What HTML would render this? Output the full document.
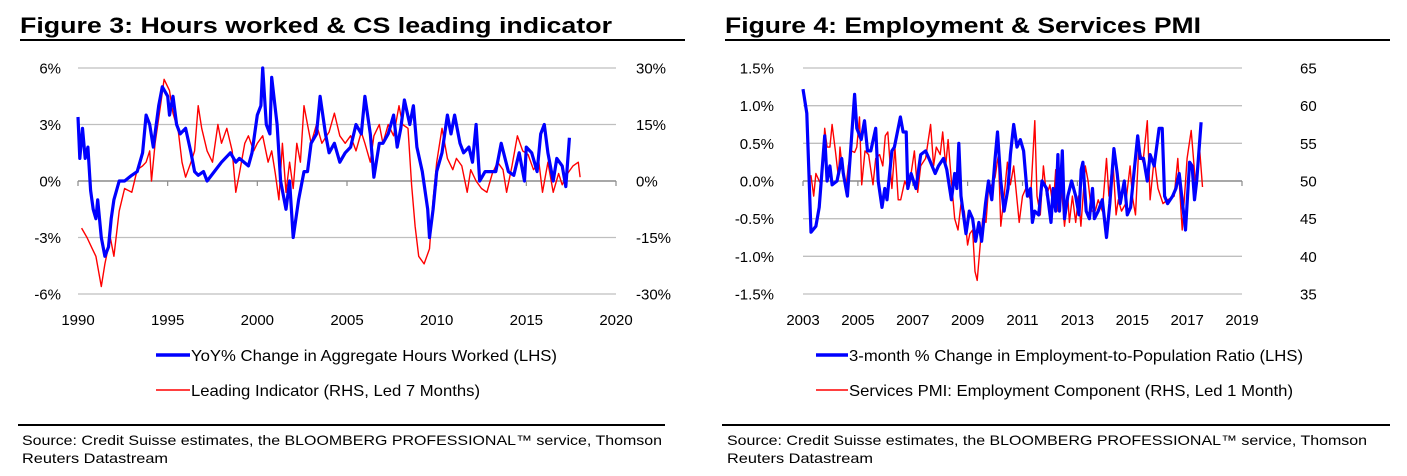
<!DOCTYPE html>
<html><head><meta charset="utf-8">
<style>
html,body{margin:0;padding:0;background:#fff;}
svg{display:block;font-family:"Liberation Sans",Arial,sans-serif;}
</style></head>
<body>
<svg id="root" width="1407" height="476" viewBox="0 0 1407 476" xmlns="http://www.w3.org/2000/svg">
  <g>
    <text x="20" y="33" font-size="22" font-weight="bold" textLength="592" lengthAdjust="spacingAndGlyphs">Figure 3: Hours worked &amp; CS leading indicator</text>
    <rect x="20" y="39" width="665" height="2" fill="#000"/>
    <g id="chart1"></g>
    <g>
      <g>
        <line x1="156" y1="355" x2="190" y2="355" stroke="#0000ff" stroke-width="3.5"/>
        <text x="191" y="361" font-size="16" textLength="366" lengthAdjust="spacingAndGlyphs">YoY% Change in Aggregate Hours Worked (LHS)</text>
      </g>
      <g>
        <line x1="156" y1="390" x2="190" y2="390" stroke="#ff0000" stroke-width="1.5"/>
        <text x="191" y="396" font-size="16" textLength="289" lengthAdjust="spacingAndGlyphs">Leading Indicator (RHS, Led 7 Months)</text>
      </g>
    </g>
    <rect x="18" y="424" width="647" height="2" fill="#000"/>
    <text font-size="14">
      <tspan x="22" y="445" textLength="640" lengthAdjust="spacingAndGlyphs">Source: Credit Suisse estimates, the BLOOMBERG PROFESSIONAL™ service, Thomson</tspan>
      <tspan x="22" y="463" textLength="146" lengthAdjust="spacingAndGlyphs">Reuters Datastream</tspan>
    </text>
  </g>
  <g>
    <text x="725" y="33" font-size="22" font-weight="bold" textLength="476" lengthAdjust="spacingAndGlyphs">Figure 4: Employment &amp; Services PMI</text>
    <rect x="725" y="39" width="665" height="2" fill="#000"/>
    <g id="chart2"></g>
    <g>
      <g>
        <line x1="816" y1="355" x2="848" y2="355" stroke="#0000ff" stroke-width="3.5"/>
        <text x="849" y="361" font-size="16" textLength="454" lengthAdjust="spacingAndGlyphs">3-month % Change in Employment-to-Population Ratio (LHS)</text>
      </g>
      <g>
        <line x1="816" y1="390" x2="848" y2="390" stroke="#ff0000" stroke-width="1.5"/>
        <text x="849" y="396" font-size="16" textLength="444" lengthAdjust="spacingAndGlyphs">Services PMI: Employment Component (RHS, Led 1 Month)</text>
      </g>
    </g>
    <rect x="722" y="424" width="668" height="2" fill="#000"/>
    <text font-size="14">
      <tspan x="727" y="445" textLength="640" lengthAdjust="spacingAndGlyphs">Source: Credit Suisse estimates, the BLOOMBERG PROFESSIONAL™ service, Thomson</tspan>
      <tspan x="727" y="463" textLength="146" lengthAdjust="spacingAndGlyphs">Reuters Datastream</tspan>
    </text>
  </g>
</svg>
<script>
// ---- Figure 3 data ----
const hoursDates = [1990.0,1990.1,1990.25,1990.4,1990.55,1990.7,1990.85,1991.0,1991.1,1991.3,1991.5,1991.7,1991.85,1992.0,1992.3,1992.6,1993.0,1993.3,1993.6,1993.8,1994.0,1994.2,1994.5,1994.7,1995.0,1995.1,1995.3,1995.5,1995.7,1996.0,1996.3,1996.5,1996.7,1997.0,1997.2,1997.6,1998.0,1998.5,1998.8,1999.0,1999.5,1999.7,2000.0,2000.2,2000.3,2000.5,2000.7,2000.8,2001.1,2001.3,2001.6,2001.8,2002.0,2002.3,2002.6,2002.8,2003.0,2003.3,2003.5,2003.8,2004.0,2004.3,2004.6,2004.9,2005.2,2005.5,2005.8,2006.0,2006.3,2006.5,2006.8,2007.0,2007.3,2007.6,2007.8,2008.0,2008.2,2008.5,2008.7,2008.9,2009.2,2009.5,2009.6,2009.8,2010.0,2010.3,2010.6,2010.8,2011.0,2011.3,2011.5,2011.8,2012.0,2012.2,2012.4,2012.7,2013.0,2013.3,2013.6,2014.0,2014.3,2014.6,2014.9,2015.0,2015.3,2015.6,2015.8,2016.0,2016.2,2016.5,2016.7,2017.0,2017.2,2017.4];
const hoursValues = [3.4,1.2,2.8,1.2,1.8,-0.5,-1.5,-2.0,-1.0,-3.0,-4.0,-3.5,-2.0,-1.0,0.0,0.0,0.3,0.5,1.5,3.5,3.0,1.8,4.0,5.0,4.5,3.5,4.5,3.0,2.5,2.8,1.5,0.5,0.3,0.5,0.0,0.5,1.0,1.5,1.0,1.2,0.8,1.5,3.5,4.0,6.0,3.0,2.5,5.5,3.0,0.0,-1.5,0.0,-3.0,-1.0,0.5,0.5,2.0,2.5,4.5,2.5,1.5,2.0,1.0,1.5,1.8,3.0,2.5,4.5,2.5,0.2,2.0,2.0,2.5,3.5,1.8,2.8,4.3,3.0,4.0,1.8,0.5,-1.5,-3.0,-1.5,0.5,1.5,3.5,2.5,3.5,2.0,1.5,1.8,1.0,3.0,0.0,0.5,0.5,0.5,2.0,0.5,0.3,1.5,0.0,1.8,1.5,0.5,2.5,3.0,1.5,0.0,1.2,0.8,-0.3,2.3];
const leadDates = [1990.2,1990.5,1990.8,1991.0,1991.3,1991.5,1991.8,1992.0,1992.3,1992.6,1993.0,1993.3,1993.6,1993.8,1994.0,1994.1,1994.3,1994.6,1994.8,1995.1,1995.3,1995.6,1995.8,1996.0,1996.3,1996.5,1996.7,1996.9,1997.2,1997.5,1997.8,1998.0,1998.3,1998.6,1998.8,1999.0,1999.3,1999.5,1999.8,2000.0,2000.3,2000.6,2000.8,2001.0,2001.2,2001.4,2001.6,2001.8,2002.0,2002.2,2002.4,2002.6,2002.8,2003.0,2003.3,2003.6,2004.0,2004.3,2004.6,2004.9,2005.2,2005.5,2005.8,2006.0,2006.3,2006.5,2006.8,2007.0,2007.3,2007.6,2007.9,2008.1,2008.4,2008.6,2008.8,2009.0,2009.3,2009.6,2009.8,2010.0,2010.3,2010.6,2010.9,2011.1,2011.4,2011.7,2011.9,2012.2,2012.5,2012.8,2013.1,2013.4,2013.7,2013.9,2014.2,2014.5,2014.8,2015.1,2015.4,2015.7,2015.9,2016.2,2016.5,2016.8,2017.0,2017.3,2017.6,2017.9,2018.0];
const leadValues = [-12.5,-15,-18,-20,-28,-22,-15,-20,-8,-2,-3,3,4,5,8,0,10,20,27,24,18,13,5,1,5,8,20,14,8,5,15,10,14,8,-3,2,10,12,8,10,12,5,8,2,-5,10,-3,5,-2,10,5,20,15,10,15,10,13,18,12,10,12,8,13,10,5,12,15,10,15,12,20,15,14,-1,-12,-20,-22,-18,-5,5,14,6,3,6,4,-3,3,0,-2,-3,2,5,3,-3,4,12,8,7,3,5,-3,5,-3,2,-1,2,4,5,1];
const lhsTicks1 = ["6%","3%","0%","-3%","-6%"];
const lhsTickValues1 = [6,3,0,-3,-6];
const rhsTicks1 = ["30%","15%","0%","-15%","-30%"];
const rhsTickValues1 = [30,15,0,-15,-30];
const yearTicks1 = [1990,1995,2000,2005,2010,2015,2020];

// ---- Figure 4 data ----
const empYearsSince2003 = [0.0,0.14,0.29,0.47,0.59,0.79,0.88,0.98,1.06,1.24,1.41,1.47,1.62,1.88,1.96,2.12,2.24,2.35,2.47,2.65,2.74,2.88,2.98,3.06,3.24,3.33,3.55,3.65,3.76,3.82,3.94,4.12,4.29,4.47,4.59,4.82,4.94,5.12,5.24,5.41,5.53,5.61,5.68,5.76,5.94,6.06,6.18,6.29,6.41,6.51,6.65,6.76,6.88,7.0,7.09,7.21,7.33,7.47,7.56,7.68,7.8,7.92,8.04,8.18,8.29,8.36,8.44,8.59,8.71,8.88,9.04,9.12,9.21,9.29,9.35,9.45,9.53,9.65,9.79,9.94,10.06,10.14,10.2,10.32,10.44,10.55,10.62,10.76,10.91,11.06,11.18,11.33,11.45,11.56,11.71,11.82,11.94,12.06,12.2,12.29,12.41,12.55,12.65,12.8,12.98,13.09,13.18,13.29,13.47,13.59,13.71,13.94,14.09,14.18,14.27,14.35,14.51];
const empValues = [1.22,0.9,-0.68,-0.6,-0.35,0.6,0.0,0.2,-0.05,0.0,0.3,0.1,-0.2,1.15,0.7,0.55,0.8,0.4,0.4,0.7,0.0,-0.35,-0.1,-0.25,0.4,0.45,0.85,0.65,0.65,-0.1,0.1,-0.1,0.35,0.4,0.3,0.1,0.2,0.3,0.15,-0.25,0.1,-0.1,0.5,-0.2,-0.7,-0.4,-0.5,-0.8,-0.55,-0.8,-0.3,0.0,-0.25,0.3,0.65,0.0,-0.4,-0.1,0.35,0.75,0.45,0.55,0.4,-0.2,-0.1,-0.55,-0.4,-0.45,0.0,-0.1,-0.55,-0.1,-0.4,0.35,-0.4,0.4,-0.5,-0.2,0.0,-0.2,-0.45,0.15,0.25,-0.4,-0.5,-0.1,-0.5,-0.4,-0.25,-0.75,-0.3,0.43,0.1,-0.3,0.0,-0.45,-0.35,0.1,0.6,0.3,0.3,0.0,0.35,0.2,0.7,0.7,-0.2,-0.3,-0.2,-0.1,0.1,-0.65,0.25,0.2,-0.25,0.0,0.78];
const pmiYearsSince2003 = [0.18,0.29,0.39,0.47,0.59,0.67,0.79,0.88,0.98,1.06,1.18,1.29,1.35,1.45,1.56,1.65,1.76,1.88,1.96,2.06,2.14,2.26,2.39,2.55,2.65,2.79,2.91,3.0,3.09,3.24,3.35,3.47,3.56,3.71,3.82,3.94,4.06,4.18,4.29,4.47,4.65,4.76,4.86,5.0,5.09,5.2,5.29,5.41,5.53,5.65,5.76,5.88,6.0,6.08,6.18,6.27,6.35,6.47,6.55,6.67,6.76,6.88,7.0,7.12,7.21,7.33,7.45,7.56,7.68,7.88,8.0,8.12,8.29,8.45,8.53,8.65,8.76,8.88,9.0,9.12,9.21,9.29,9.41,9.53,9.65,9.71,9.82,9.94,10.04,10.13,10.29,10.39,10.51,10.65,10.76,10.91,11.06,11.15,11.29,11.41,11.49,11.61,11.76,11.92,12.0,12.12,12.24,12.39,12.55,12.65,12.8,12.94,13.12,13.29,13.53,13.66,13.82,14.0,14.15,14.32,14.44,14.56];
const pmiValues = [50.5,50.7,48,51,50,49.5,57,54.5,54.5,57.5,54,50.5,54.5,51,49,52,54,53.8,54.5,58.5,49.5,54,53.5,49.5,53,53.5,52,56,56.5,49,54.5,47.5,47.5,50,49,51,54,48.5,52,53,57.5,52,54.5,53.5,56.5,52,55.5,50,45,43.5,47,46,41.5,43,43.5,38,36.8,42,45,44.5,49,49.5,50.5,53.5,44,48,52.5,49.5,52,44.5,48,49,47.5,58,48,45.5,52,48,49.5,46.5,51.5,46,49.5,44,48,44.5,48,44.5,48,44,52,50,46,46,47.5,46,53,48,53,45.5,47.5,46,47,52,48,45.5,54.5,52.5,58,47.5,53,49,47,47.5,48,53,43.5,53,56.7,49,55,49.2];
const lhsTicks2 = ["1.5%","1.0%","0.5%","0.0%","-0.5%","-1.0%","-1.5%"];
const lhsTickValues2 = [1.5,1.0,0.5,0,-0.5,-1.0,-1.5];
const rhsTicks2 = ["65","60","55","50","45","40","35"];
const rhsTickValues2 = [65,60,55,50,45,40,35];
const yearTicks2 = [2003,2005,2007,2009,2011,2013,2015,2017,2019];
const baseYear2 = 2003;

const NS = "http://www.w3.org/2000/svg";
function mk(tag, attrs, parent){
  const e = document.createElementNS(NS, tag);
  for (const k in attrs) e.setAttribute(k, attrs[k]);
  parent.appendChild(e);
  return e;
}

function drawChart(g, cfg){
  const X = v => cfg.x0 + (v - cfg.xMin) / (cfg.xMax - cfg.xMin) * (cfg.x1 - cfg.x0);
  const YL = v => cfg.yBot + (v - cfg.lMin) / (cfg.lMax - cfg.lMin) * (cfg.yTop - cfg.yBot);
  const YR = v => cfg.yBot + (v - cfg.rMin) / (cfg.rMax - cfg.rMin) * (cfg.yTop - cfg.yBot);
  // gridlines + left labels
  cfg.lVals.forEach((v, i) => {
    const y = YL(v);
    if (v !== 0) {
      const gl = mk('line', {x1: cfg.x0, x2: cfg.gridEnd, y1: y, y2: y, stroke: '#bfbfbf', 'stroke-width': 1.3}, g);
      
      
    }
    const t = mk('text', {x: cfg.lLabelX, y: y + 5.5, 'font-size': 15, 'text-anchor': 'end'}, g);
    t.textContent = cfg.lLabels[i];
    
    
  });
  cfg.rVals.forEach((v, i) => {
    const t = mk('text', {x: cfg.rLabelX, y: YR(v) + 5.5, 'font-size': 15}, g);
    t.textContent = cfg.rLabels[i];
    
    
  });
  // zero axis
  const y0 = YL(0);
  const ax = mk('line', {x1: cfg.x0, x2: cfg.gridEnd, y1: y0, y2: y0, stroke: '#8c8c8c', 'stroke-width': 1.5}, g);
  
  
  cfg.xTicks.forEach(v => {
    const x = X(v);
    const tk = mk('line', {x1: x, x2: x, y1: y0, y2: y0 + 5, stroke: '#8c8c8c', 'stroke-width': 1.2}, g);
    
    
    const t = mk('text', {x: x, y: 325, 'font-size': 15, 'text-anchor': 'middle'}, g);
    t.textContent = String(v);
    
    
  });
  // series
  const pathOf = (xs, ys, yf) => xs.map((d, i) => (i ? 'L' : 'M') + X(d).toFixed(1) + ',' + yf(ys[i]).toFixed(1)).join('');
  const red = mk('path', {d: pathOf(cfg.rX, cfg.rY, YR), fill: 'none', stroke: '#ff0000', 'stroke-width': 1.4, 'stroke-linejoin': 'round'}, g);
  
  
  const blue = mk('path', {d: pathOf(cfg.lX, cfg.lY, YL), fill: 'none', stroke: '#0000ff', 'stroke-width': 3.2, 'stroke-linejoin': 'round'}, g);
  
  
}

drawChart(document.getElementById('chart1'), {
  x0: 78, x1: 616, gridEnd: 616, xMin: 1990, xMax: 2020,
  yTop: 68, yBot: 294, lMin: -6, lMax: 6, rMin: -30, rMax: 30,
  lVals: lhsTickValues1, lLabels: lhsTicks1, rVals: rhsTickValues1, rLabels: rhsTicks1,
  lLabelX: 61, rLabelX: 636, xTicks: yearTicks1,
  lX: hoursDates, lY: hoursValues, rX: leadDates, rY: leadValues,
  blueName: 'hours-worked-line', redName: 'leading-indicator-line'
});

drawChart(document.getElementById('chart2'), {
  x0: 803, x1: 1242, gridEnd: 1242, xMin: 2003, xMax: 2019,
  yTop: 68, yBot: 294, lMin: -1.5, lMax: 1.5, rMin: 35, rMax: 65,
  lVals: lhsTickValues2, lLabels: lhsTicks2, rVals: rhsTickValues2, rLabels: rhsTicks2,
  lLabelX: 774, rLabelX: 1300, xTicks: yearTicks2,
  lX: empYearsSince2003.map(d => baseYear2 + d), lY: empValues,
  rX: pmiYearsSince2003.map(d => baseYear2 + d), rY: pmiValues,
  blueName: 'employment-ratio-line', redName: 'services-pmi-line'
});
</script>
</body></html>
